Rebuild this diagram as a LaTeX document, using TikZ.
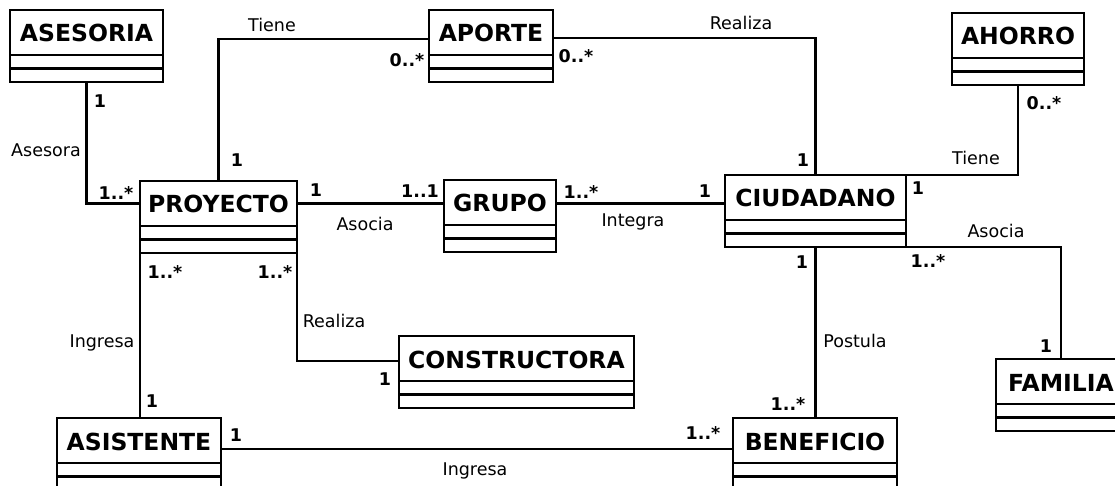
\documentclass[tikz,border=0pt]{standalone}
\usepackage{fontspec}
\setmainfont{DejaVu Sans}
\usepackage{tikz}
\usetikzlibrary{positioning, calc}

\tikzset{
  classtitle/.style={draw, line width=2.6pt, fill=white, inner xsep=0pt, inner ysep=0pt, outer sep=0pt,
    minimum height=45pt, text height=19pt, text depth=0pt,
    font=\fontsize{23.5}{28}\selectfont\bfseries},
  classpart/.style={draw, line width=2.6pt, fill=white, inner sep=0pt, outer sep=0pt, minimum height=13.5pt},
  assoc/.style={line width=2.6pt},
  mult/.style={anchor=base, inner sep=0pt, font=\fontsize{17.5}{20}\selectfont\bfseries},
  role/.style={anchor=base, inner sep=0pt, font=\fontsize{17.5}{20}\selectfont},
}

% class box: name, top-left corner, width, title
\newcommand{\umlclass}[4]{%
  \node[classtitle, minimum width=#3, anchor=north west] (#1) at (#2) {#4};
  \node[classpart, minimum width=#3, anchor=north] (#1-attr) at (#1.south) {};
  \node[classpart, minimum width=#3, anchor=north] (#1-ops) at (#1-attr.south) {};
}

\begin{document}
\begin{tikzpicture}[x=1pt, y=-1pt]
  \useasboundingbox (0,0) rectangle (1115,486);

  % Classes
  \umlclass{asesoria}{10,10}{153pt}{ASESORIA}
  \umlclass{aporte}{429,10}{124pt}{APORTE}
  \umlclass{ahorro}{952,13}{132pt}{AHORRO}
  \umlclass{proyecto}{140,181}{157pt}{PROYECTO}
  \umlclass{grupo}{444,180}{112pt}{GRUPO}
  \umlclass{ciudadano}{725,175}{181pt}{CIUDADANO}
  \umlclass{constructora}{399,336}{235pt}{CONSTRUCTORA}
  \umlclass{asistente}{57,418}{164pt}{ASISTENTE}
  \umlclass{beneficio}{733,418}{164pt}{BENEFICIO}
  \umlclass{familia}{996,359}{130pt}{FAMILIA}

  % Associations
  \draw[assoc] (asesoria-ops.south) |- (proyecto.west);
  \draw[assoc] (proyecto.north) |- ([yshift=-6.5pt]aporte.west);
  \draw[assoc] ([yshift=-5.5pt]aporte.east) -| (ciudadano.north);
  \draw[assoc] (ahorro-ops.south) |- (ciudadano.north east);
  \draw[assoc] (proyecto.east) -- (grupo.west |- proyecto.east);
  \draw[assoc] (grupo.east |- proyecto.east) -- (ciudadano.west |- proyecto.east);
  \draw[assoc] (ciudadano-ops.south east) -| (familia.north);
  \draw[assoc] (ciudadano-ops.south) -- (ciudadano-ops.south |- beneficio.north);
  \draw[assoc] (proyecto-ops.south west) -- (asistente.north -| proyecto-ops.south west);
  \draw[assoc] (proyecto-ops.south east) |- ([yshift=-2.5pt]constructora.west);
  \draw[assoc] ([yshift=-8.5pt]asistente.east) -- ([yshift=-8.5pt]asistente.east -| beneficio.west);

  % Asesora
  \node[mult] (m-ase1) at (100,108) {1};
  \node[role] (r-asesora) at (46,157) {Asesora};
  \node[mult] (m-ase2) at (116,200) {1..*};

  % Tiene (proyecto - aporte)
  \node[role] (r-tiene1) at (272,32) {Tiene};
  \node[mult] (m-tie1) at (237,167) {1};
  \node[mult] (m-tie2) at (407,67) {0..*};

  % Realiza (aporte - ciudadano)
  \node[mult] (m-rea1) at (576,63) {0..*};
  \node[role] (r-realiza1) at (741,30) {Realiza};
  \node[mult] (m-rea2) at (803,167) {1};

  % Tiene (ahorro - ciudadano)
  \node[mult] (m-aho1) at (1044,110) {0..*};
  \node[role] (r-tiene2) at (976,165) {Tiene};
  \node[mult] (m-aho2) at (918,195) {1};

  % Asocia (proyecto - grupo)
  \node[mult] (m-aso1) at (316,197) {1};
  \node[mult] (m-aso2) at (420,198) {1..1};
  \node[role] (r-asocia1) at (365,230) {Asocia};

  % Integra
  \node[mult] (m-int1) at (581,199) {1..*};
  \node[role] (r-integra) at (633,227) {Integra};
  \node[mult] (m-int2) at (705,198) {1};

  % Asocia (ciudadano - familia)
  \node[role] (r-asocia2) at (996,237) {Asocia};
  \node[mult] (m-fam1) at (928,267) {1..*};
  \node[mult] (m-fam2) at (1046,352) {1};

  % Postula
  \node[mult] (m-pos1) at (802,268) {1};
  \node[role] (r-postula) at (855,347) {Postula};
  \node[mult] (m-pos2) at (788,410) {1..*};

  % Ingresa (proyecto - asistente)
  \node[mult] (m-ing1) at (165,278) {1..*};
  \node[role] (r-ingresa1) at (102,347) {Ingresa};
  \node[mult] (m-ing2) at (152,407) {1};

  % Realiza (proyecto - constructora)
  \node[mult] (m-con1) at (275,278) {1..*};
  \node[role] (r-realiza2) at (334,327) {Realiza};
  \node[mult] (m-con2) at (385,385) {1};

  % Ingresa (asistente - beneficio)
  \node[mult] (m-ben1) at (236,441) {1};
  \node[role] (r-ingresa2) at (475,475) {Ingresa};
  \node[mult] (m-ben2) at (703,439) {1..*};
\end{tikzpicture}
\end{document}
